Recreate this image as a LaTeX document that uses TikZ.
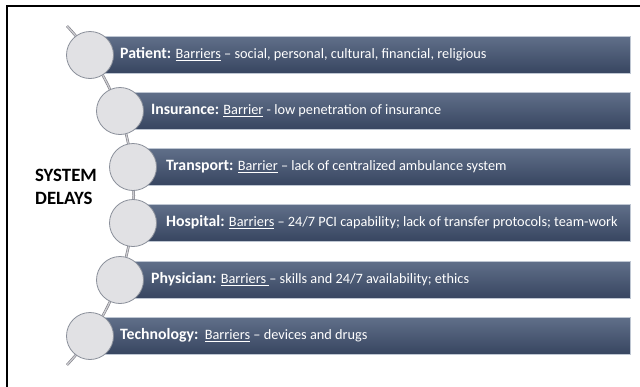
\documentclass[tikz,border=0pt]{standalone}
\usepackage{fontspec}
\setmainfont{Carlito}
\definecolor{bartop}{RGB}{96,111,137}
\definecolor{barbot}{RGB}{55,69,96}
\definecolor{barline}{RGB}{190,198,210}
\definecolor{circfill}{RGB}{225,225,228}
\definecolor{circline}{RGB}{138,143,154}
\definecolor{spineline}{RGB}{125,125,132}
\definecolor{spinefill}{RGB}{205,205,210}
\tikzset{
  barbox/.style={rectangle, anchor=west, minimum height=37pt, inner sep=0pt,
    top color=bartop, bottom color=barbot, draw=barline, line width=0.8pt},
  dot/.style={circle, minimum size=47pt, inner sep=0pt, fill=circfill,
    draw=circline, line width=0.8pt},
  bartext/.style={anchor=west, inner sep=0pt, text=white, text height=10pt, text depth=3pt,
    font=\fontsize{14.3}{16}\selectfont},
  spine/.style={draw=spineline, double=spinefill, line width=0.6pt, double distance=1.3pt},
  frameline/.style={draw=black, line width=1.4pt}
}
\newcommand{\lbl}[1]{{\fontsize{15.8}{18}\selectfont\bfseries #1}}
\begin{document}
\begin{tikzpicture}[x=1pt,y=-1pt]
\useasboundingbox (0,0) rectangle (640,386);
\fill[white] (0,0) rectangle (640,386);
% frame (top and left edges visible)
\coordinate (ftr) at (645,6);
\coordinate (ftl) at (7,6);
\coordinate (fbl) at (7,390);
\draw[frameline] (ftr) -- (ftl) -- (fbl);
% spine
\coordinate (stop) at (67,26);
\coordinate (sbot) at (68,365);
\draw[spine] (stop) arc[start angle=-43, end angle=43, radius=248.5];
% bars
\node[barbox, minimum width=540pt] (b1) at (90,55) {};
\node[barbox, minimum width=510pt] (b2) at (120,111) {};
\node[barbox, minimum width=497pt] (b3) at (133,167) {};
\node[barbox, minimum width=497pt] (b4) at (133,223) {};
\node[barbox, minimum width=510pt] (b5) at (120,280) {};
\node[barbox, minimum width=540pt] (b6) at (90,336) {};
% circles
\node[dot] (c1) at (90,55) {};
\node[dot] (c2) at (120,111) {};
\node[dot] (c3) at (133,167) {};
\node[dot] (c4) at (133,223) {};
\node[dot] (c5) at (120,280) {};
\node[dot] (c6) at (90,336) {};
% texts
\node[bartext] (t1) at (120,55) {\lbl{Patient:} \underline{Barriers} – social, personal, cultural, financial, religious};
\node[bartext] (t2) at (151,111) {\lbl{Insurance:} \underline{Barrier} - low penetration of insurance};
\node[bartext] (t3) at (166,167) {\lbl{Transport:} \underline{Barrier} – lack of centralized ambulance system};
\node[bartext] (t4) at (166,223) {\lbl{Hospital:} \underline{Barriers} – 24/7 PCI capability; lack of transfer protocols; team-work};
\node[bartext] (t5) at (151,280) {\lbl{Physician:} \underline{Barriers\ }– skills and 24/7 availability; ethics};
\node[bartext] (t6) at (120,336) {\lbl{Technology:}\ \ \underline{Barriers} – devices and drugs};
% title
\node[anchor=west, inner sep=0pt, align=left, font=\fontsize{18.8}{23}\selectfont\bfseries] (sd) at (35,187) {SYSTEM\\DELAYS};
\end{tikzpicture}
\end{document}
